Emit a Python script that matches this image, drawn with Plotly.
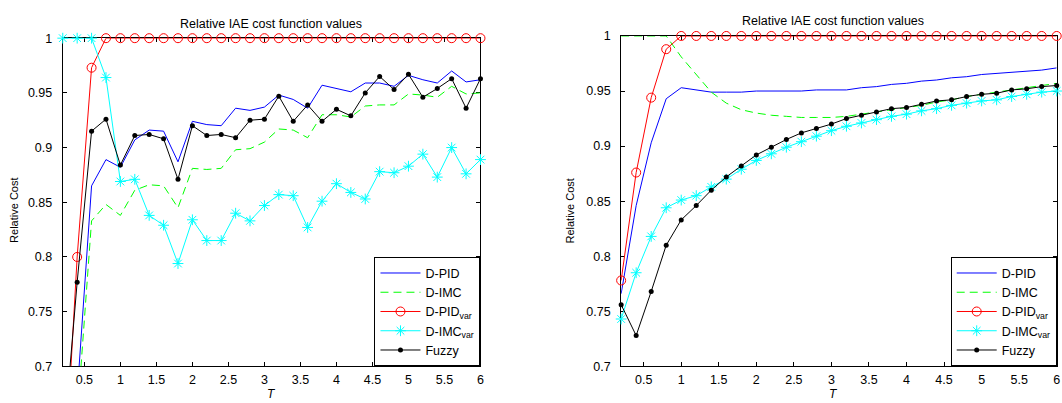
import plotly.graph_objects as go

# Sampling period T (0.2 ... 6.0)
T = [round(0.2 * k, 1) for k in range(1, 31)]

# ---- left panel ----
left_dpid = [0.45, 0.674, 0.865, 0.889, 0.882, 0.907, 0.916, 0.915, 0.887, 0.924,
             0.921, 0.920, 0.936, 0.934, 0.937, 0.948, 0.944, 0.936, 0.957, 0.954,
             0.951, 0.959, 0.959, 0.956, 0.966, 0.962, 0.959, 0.970, 0.960, 0.962]
left_dimc = [0.45, 0.652, 0.833, 0.848, 0.838, 0.861, 0.866, 0.865, 0.845, 0.881,
             0.880, 0.881, 0.898, 0.899, 0.905, 0.917, 0.916, 0.909, 0.930, 0.930,
             0.928, 0.938, 0.939, 0.939, 0.949, 0.948, 0.946, 0.956, 0.949, 0.950]
left_dpid_var = [0.567, 0.800, 0.973] + [1.0] * 27
left_dimc_var = [1.0, 1.0, 1.0, 0.964, 0.869, 0.871, 0.838, 0.829, 0.794, 0.834,
                 0.815, 0.815, 0.840, 0.833, 0.847, 0.857, 0.856, 0.827, 0.851, 0.867,
                 0.859, 0.853, 0.878, 0.877, 0.883, 0.894, 0.873, 0.900, 0.876, 0.889]
left_fuzzy = [0.621, 0.777, 0.915, 0.926, 0.884, 0.911, 0.912, 0.908, 0.871, 0.920,
              0.911, 0.912, 0.909, 0.925, 0.926, 0.947, 0.924, 0.939, 0.924, 0.935,
              0.929, 0.950, 0.965, 0.953, 0.967, 0.946, 0.954, 0.963, 0.936, 0.963]

# ---- right panel ----
right_dpid = [0.766, 0.846, 0.903, 0.943, 0.953, 0.951, 0.949, 0.949, 0.949, 0.950,
              0.950, 0.950, 0.950, 0.951, 0.951, 0.951, 0.953, 0.954, 0.956, 0.957,
              0.959, 0.960, 0.962, 0.963, 0.965, 0.966, 0.967, 0.968, 0.969, 0.971]
right_dimc = [1.0, 1.0, 1.0, 1.0, 0.981, 0.965, 0.949, 0.939, 0.933, 0.930,
              0.928, 0.927, 0.926, 0.926, 0.926, 0.927, 0.929, 0.931, 0.933, 0.935,
              0.937, 0.940, 0.942, 0.945, 0.947, 0.949, 0.951, 0.953, 0.955, 0.957]
right_dpid_var = [0.778, 0.876, 0.944, 0.988] + [1.0] * 26
right_dimc_var = [0.743, 0.785, 0.818, 0.844, 0.851, 0.855, 0.863, 0.870, 0.879, 0.887,
                  0.893, 0.899, 0.904, 0.909, 0.914, 0.918, 0.921, 0.924, 0.927, 0.929,
                  0.932, 0.934, 0.937, 0.939, 0.941, 0.942, 0.945, 0.947, 0.949, 0.950]
right_fuzzy = [0.756, 0.728, 0.768, 0.810, 0.833, 0.846, 0.860, 0.872, 0.882, 0.892,
               0.899, 0.906, 0.912, 0.916, 0.920, 0.925, 0.928, 0.931, 0.934, 0.935,
               0.938, 0.941, 0.942, 0.945, 0.947, 0.948, 0.951, 0.952, 0.954, 0.955]

x_ticks = [0.5, 1, 1.5, 2, 2.5, 3, 3.5, 4, 4.5, 5, 5.5, 6]
x_tick_text = ["0.5", "1", "1.5", "2", "2.5", "3", "3.5", "4", "4.5", "5", "5.5", "6"]
y_ticks = [0.7, 0.75, 0.8, 0.85, 0.9, 0.95, 1.0]
y_tick_text = ["0.7", "0.75", "0.8", "0.85", "0.9", "0.95", "1"]

names = ["D-PID", "D-IMC", "D-PID<sub>var</sub>", "D-IMC<sub>var</sub>", "Fuzzy"]
title_text = "Relative IAE cost function values"
ylabel_text = "Relative Cost"

W, H = 1062, 403
FONT = "Liberation Sans, Arial, sans-serif"


def py(px):
    """pixel row -> paper y"""
    return 1 - px / H


def pxx(px):
    """pixel column -> paper x"""
    return px / W


styles = [
    dict(mode="lines", line=dict(color="#0000FF", width=1)),
    dict(mode="lines", line=dict(color="#00FF00", width=1, dash="8px,5px")),
    dict(mode="lines+markers", line=dict(color="#FF0000", width=1),
         marker=dict(symbol="circle-open", size=9, color="#FF0000", line=dict(width=1))),
    dict(mode="lines+markers", line=dict(color="#00FFFF", width=1),
         marker=dict(symbol="asterisk-open", size=9, color="#00FFFF",
                     line=dict(width=1, color="#00FFFF"))),
    dict(mode="lines+markers", line=dict(color="#000000", width=1),
         marker=dict(symbol="circle", size=5, color="#000000")),
]

panels = [
    dict(series=[left_dpid, left_dimc, left_dpid_var, left_dimc_var, left_fuzzy],
         xa="x", ya="y", legend="legend", box=(63, 482.3, 32.3, 372.3),
         title_xy=(272.5, 17.3), xlabel_xy=(272.7, 401), ylabel_x=13.3),
    dict(series=[right_dpid, right_dimc, right_dpid_var, right_dimc_var, right_fuzzy],
         xa="x2", ya="y2", legend="legend2", box=(623.5, 1060.7, 30, 372.3),
         title_xy=(836.5, 15), xlabel_xy=(836.7, 401), ylabel_x=572),
]

fig = go.Figure()
annotations = []
layout = dict(width=W, height=H, margin=dict(l=0, r=0, t=0, b=0),
              paper_bgcolor="white", plot_bgcolor="white",
              font=dict(family=FONT, size=12, color="black"), showlegend=True)

for i, p in enumerate(panels):
    for ys, nm, st in zip(p["series"], names, styles):
        fig.add_trace(go.Scatter(x=T, y=ys, name=nm, xaxis=p["xa"], yaxis=p["ya"],
                                 legend=p["legend"], cliponaxis=False, **st))
    x0, x1, y0, y1 = p["box"]
    sfx = "" if i == 0 else "2"
    common = dict(showline=True, linecolor="black", linewidth=1, mirror="ticks",
                  ticks="inside", ticklen=4, tickcolor="black", showgrid=False,
                  zeroline=False, layer="below traces",
                  tickfont=dict(family=FONT, size=12.5, color="black"))
    layout["xaxis" + sfx] = dict(domain=[pxx(x0), pxx(x1)], range=[0.2, 6],
                                 tickvals=x_ticks, ticktext=x_tick_text,
                                 anchor="y" + sfx, ticklabelstandoff=2, **common)
    layout["yaxis" + sfx] = dict(domain=[py(y1), py(y0)], range=[0.7, 1.0],
                                 tickvals=y_ticks, ticktext=y_tick_text,
                                 anchor="x" + sfx, ticklabelstandoff=7, **common)
    layout[p["legend"]] = dict(x=pxx(x1), xanchor="right", y=py(y1), yanchor="bottom",
                               xref="paper", yref="paper",
                               bgcolor="white", bordercolor="black", borderwidth=1,
                               font=dict(family=FONT, size=12.5, color="black"),
                               itemwidth=40, tracegroupgap=0, traceorder="normal")
    tx, ty = p["title_xy"]
    annotations.append(dict(text=title_text, x=pxx(tx), y=py(ty), xref="paper",
                            yref="paper", showarrow=False, xanchor="center",
                            yanchor="middle", font=dict(family=FONT, size=12.5)))
    lx, ly = p["xlabel_xy"]
    annotations.append(dict(text="<i>T</i>", x=pxx(lx), y=py(ly), xref="paper",
                            yref="paper", showarrow=False, xanchor="center",
                            yanchor="middle", borderpad=0,
                            font=dict(family=FONT, size=12)))
    # vertical y-axis label
    annotations.append(dict(text=ylabel_text, x=pxx(p["ylabel_x"]), y=py(211),
                            xref="paper", yref="paper", showarrow=False,
                            xanchor="center", yanchor="middle", textangle=-90,
                            font=dict(family=FONT, size=11)))

layout["annotations"] = annotations
fig.update_layout(**layout)
fig.write_html("out.html")
